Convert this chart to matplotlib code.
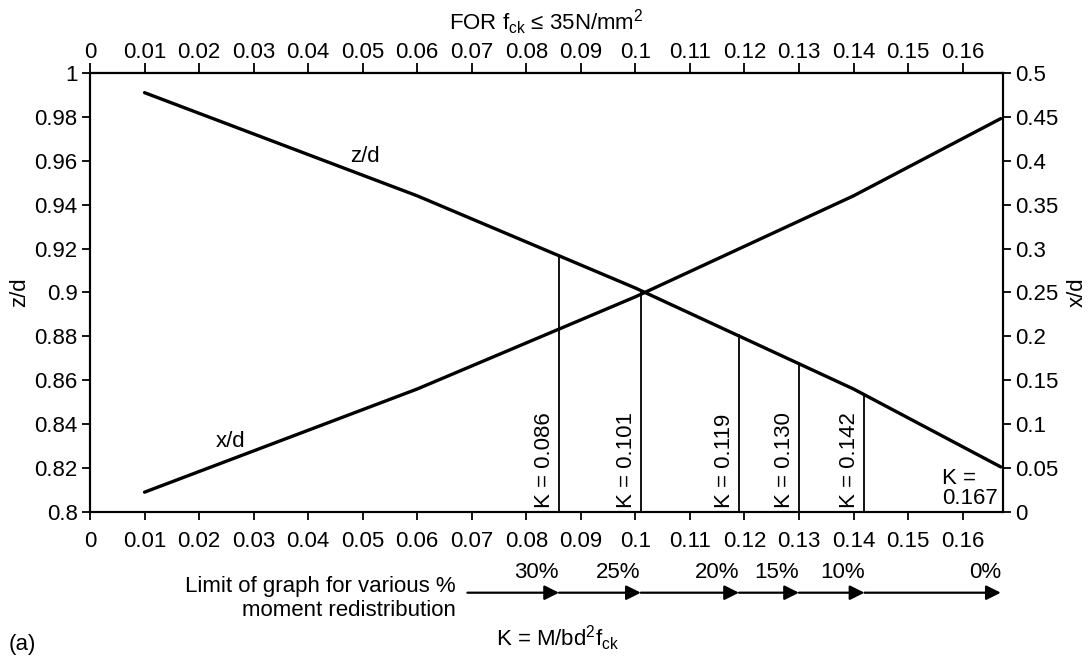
import matplotlib
matplotlib.use("Agg")
import matplotlib.pyplot as plt

plt.rcParams['font.family'] = ['Liberation Sans', 'DejaVu Sans']
plt.rcParams['mathtext.fontset'] = 'custom'
plt.rcParams['mathtext.rm'] = 'Liberation Sans'
plt.rcParams['mathtext.it'] = 'Liberation Sans:italic'

# curve points
K = [0.01, 0.06, 0.10, 0.14, 0.167]
z_d = [0.991, 0.944, 0.902, 0.856, 0.8205]
x_d = [0.0225, 0.14, 0.245, 0.36, 0.448]

# limits of K for moment redistribution
K_lim = [0.086, 0.101, 0.119, 0.130, 0.142]
K_lim_top = [0.917, 0.901, 0.881, 0.868, 0.853]
K_lim_labels = ['K = 0.086', 'K = 0.101', 'K = 0.119', 'K = 0.130', 'K = 0.142']
redis_pos = [0.086, 0.101, 0.119, 0.130, 0.142, 0.167]
redis_labels = ['30%', '25%', '20%', '15%', '10%', '0%']

x_ticks = [0, 0.01, 0.02, 0.03, 0.04, 0.05, 0.06, 0.07, 0.08, 0.09, 0.1,
           0.11, 0.12, 0.13, 0.14, 0.15, 0.16]
x_ticklabels = ['0', '0.01', '0.02', '0.03', '0.04', '0.05', '0.06', '0.07', '0.08',
                '0.09', '0.1', '0.11', '0.12', '0.13', '0.14', '0.15', '0.16']
zd_ticks = [0.8, 0.82, 0.84, 0.86, 0.88, 0.9, 0.92, 0.94, 0.96, 0.98, 1]
zd_ticklabels = ['0.8', '0.82', '0.84', '0.86', '0.88', '0.9', '0.92', '0.94', '0.96', '0.98', '1']
xd_ticks = [0, 0.05, 0.1, 0.15, 0.2, 0.25, 0.3, 0.35, 0.4, 0.45, 0.5]
xd_ticklabels = ['0', '0.05', '0.1', '0.15', '0.2', '0.25', '0.3', '0.35', '0.4', '0.45', '0.5']

fs = 16
fig = plt.figure(figsize=(10.91, 6.58), dpi=100)
ax1 = fig.add_axes([0.0825, 0.222, 0.8368, 0.6672])
ax1.set_xlim(0, 0.1674)
ax1.set_ylim(0.8, 1.0)
ax2 = ax1.twinx()
ax2.set_ylim(0, 0.5)

for a in (ax1, ax2):
    for s in a.spines.values():
        s.set_linewidth(1.5)

ax1.plot(K, z_d, color='k', lw=2.4, solid_capstyle='round')
ax2.plot(K, x_d, color='k', lw=2.4, solid_capstyle='round')

# vertical limit lines
ax1.vlines(K_lim, 0.8, K_lim_top, color='k', lw=1.3)
for k, lab in zip(K_lim, K_lim_labels):
    ax1.annotate(lab, (k, 0.8), xytext=(-3, 3), textcoords='offset points',
                 rotation=90, ha='right', va='bottom', fontsize=fs)
ax1.text(0.1562, 0.8012, 'K =\n0.167', ha='left', va='bottom', fontsize=fs,
         linespacing=0.95)

ax1.text(0.0505, 0.9617, 'z/d', ha='center', va='center', fontsize=fs)
ax1.text(0.0258, 0.8323, 'x/d', ha='center', va='center', fontsize=fs)

# axes ticks
ax1.set_xticks(x_ticks)
ax1.set_xticklabels(x_ticklabels, fontsize=fs)
ax1.set_yticks(zd_ticks)
ax1.set_yticklabels(zd_ticklabels, fontsize=fs)
ax2.set_yticks(xd_ticks)
ax2.set_yticklabels(xd_ticklabels, fontsize=fs)
ax1.tick_params(direction='out', length=6, width=1.3, pad=3)
ax1.tick_params(axis='x', pad=8)
ax2.tick_params(direction='out', length=6, width=1.3, pad=3)

top = ax1.secondary_xaxis('top')
top.set_xticks(x_ticks)
top.set_xticklabels(x_ticklabels, fontsize=fs)
top.tick_params(direction='out', length=7, width=1.3, pad=0)
top.spines['top'].set_linewidth(1.5)
top.set_xlabel(r'FOR f$_{\mathrm{ck}}$ ≤ 35N/mm$^{\mathrm{2}}$', fontsize=fs, labelpad=9)

ax1.set_ylabel('z/d', fontsize=fs)
ax1.yaxis.set_label_coords(-0.066, 0.5)
ax2.set_ylabel('x/d', fontsize=fs, rotation=90)
ax2.yaxis.set_label_coords(1.070, 0.5)

# redistribution arrows
arrow_y = -0.184
starts = [0.0692] + redis_pos[:-1]
for x0, x1 in zip(starts, redis_pos):
    ax1.annotate('', xy=(x1, arrow_y), xytext=(x0, arrow_y),
                 xycoords=('data', 'axes fraction'), textcoords=('data', 'axes fraction'),
                 arrowprops=dict(arrowstyle='-|>', mutation_scale=22, lw=1.6, color='k',
                                 shrinkA=0, shrinkB=0), annotation_clip=False)
for x1, lab in zip(redis_pos, redis_labels):
    ax1.text(x1, -0.139, lab, transform=ax1.get_xaxis_transform(), ha='right',
             va='center', fontsize=fs, clip_on=False)

ax1.text(0.401, -0.198, 'Limit of graph for various %\nmoment redistribution',
         transform=ax1.transAxes, ha='right', va='center', multialignment='right',
         fontsize=fs, linespacing=1.2)
ax1.text(0.512, -0.287, r'K = M/bd$^{\mathrm{2}}$f$_{\mathrm{ck}}$', transform=ax1.transAxes,
         ha='center', va='center', fontsize=fs)
fig.text(0.008, 0.004, '(a)', ha='left', va='bottom', fontsize=fs)

fig.savefig('out.png', dpi=100)
